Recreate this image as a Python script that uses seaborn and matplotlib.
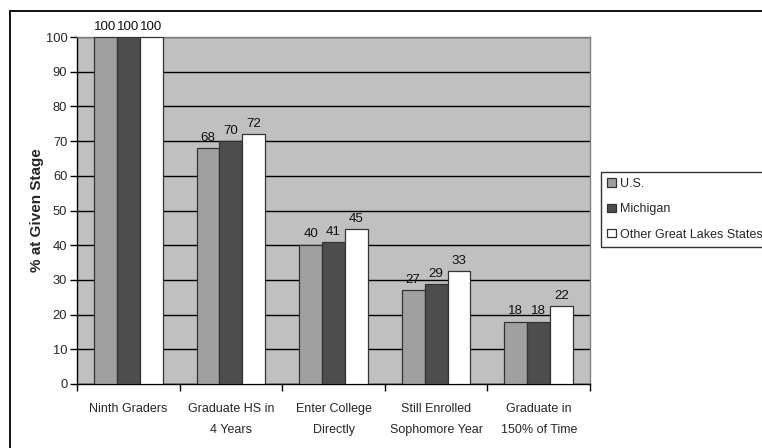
import matplotlib
matplotlib.use("Agg")
import matplotlib.pyplot as plt
from matplotlib.lines import Line2D
import seaborn as sns
import pandas as pd

stages = ["Ninth Graders", "Graduate HS in\n4 Years", "Enter College\nDirectly",
          "Still Enrolled\nSophomore Year", "Graduate in\n150% of Time"]
series = ["U.S.", "Michigan", "Other Great Lakes States"]
us = [100, 68, 40.2, 27.1, 18]
michigan = [100, 70, 40.8, 28.8, 18]
other = [100, 72, 44.7, 32.6, 22.4]
colors = ["#a0a0a0", "#4d4d4d", "#ffffff"]

rows = []
for name, vals in zip(series, [us, michigan, other]):
    for st, v in zip(stages, vals):
        rows.append({"Stage": st, "Series": name, "Value": v})
df = pd.DataFrame(rows)

sns.set_theme(style="white")
plt.rcParams["font.family"] = ["Liberation Sans", "DejaVu Sans"]

fig = plt.figure(figsize=(7.62, 4.48), dpi=100)
ax = fig.add_axes([77/762, 1-384/448, (590-77)/762, (384-37)/448])
ax.set_facecolor("#c0c0c0")

sns.barplot(data=df, x="Stage", y="Value", hue="Series", order=stages,
            hue_order=series, palette=colors, width=0.67, ax=ax,
            edgecolor="#333333", linewidth=0.9, saturation=1, legend=True,
            zorder=3)

for c in ax.containers:
    ax.bar_label(c, fmt="%.0f", padding=3, fontsize=9.6, color="#111111")

ax.set_ylim(0, 100)
ax.set_xlim(-0.5, 4.5)
ax.set_yticks(range(0, 101, 10))
ax.yaxis.grid(True, color="#000000", linewidth=1.0, zorder=0)
ax.set_axisbelow(True)
ax.tick_params(axis="y", direction="out", length=5, width=1, color="#000000",
               labelsize=9.3, pad=2, left=True)
ax.set_xticks(range(5))
ax.set_xticklabels(stages, fontsize=9, linespacing=2.0)
ax.tick_params(axis="x", which="major", length=0, pad=13.5)
ax.set_xticks([i - 0.5 for i in range(6)], minor=True)
ax.tick_params(axis="x", which="minor", direction="out", length=5, width=1,
               color="#000000", bottom=True)
ax.set_xlabel("")
ax.set_ylabel("% at Given Stage", fontsize=11, fontweight="bold", labelpad=1)

for s in ["top", "right"]:
    ax.spines[s].set_color("#808080")
    ax.spines[s].set_linewidth(1)
for s in ["left", "bottom"]:
    ax.spines[s].set_color("#000000")
    ax.spines[s].set_linewidth(1)

leg = ax.legend(loc="upper left", bbox_to_anchor=(601/762, 1-172/448),
                bbox_transform=fig.transFigure, frameon=True, fancybox=False,
                edgecolor="#000000", fontsize=9, handlelength=0.7,
                handleheight=0.7, handletextpad=0.3, labelspacing=1.05,
                borderpad=0.5, borderaxespad=0, title=None)
leg.get_frame().set_linewidth(1)
for h in leg.legend_handles:
    h.set_edgecolor("#333333")

# outer chart border
fig.add_artist(Line2D([10/762, 10/762], [1-11/448, 0], color="#000000",
                      linewidth=1.3, transform=fig.transFigure))
fig.add_artist(Line2D([10/762, 1], [1-11/448, 1-11/448], color="#000000",
                      linewidth=1.3, transform=fig.transFigure))

fig.savefig("out.png", dpi=100)
